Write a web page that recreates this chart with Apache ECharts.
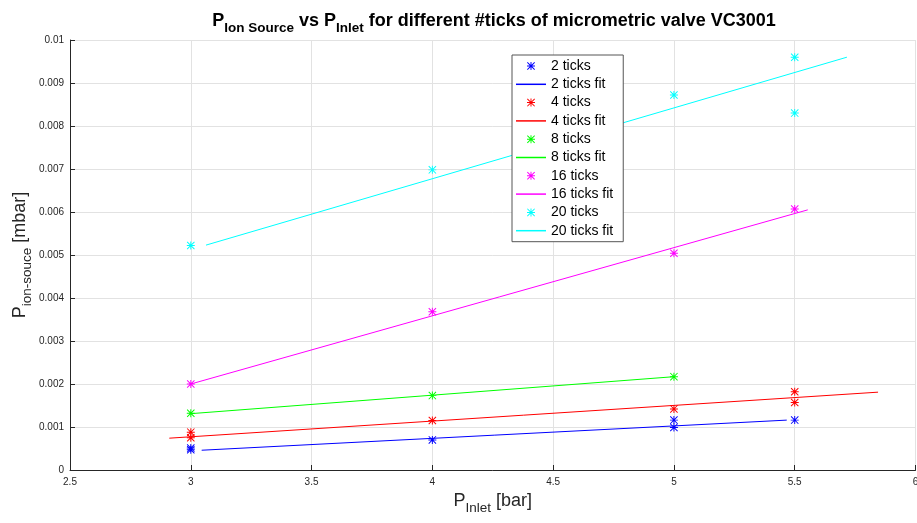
<!DOCTYPE html>
<html>
<head>
<meta charset="utf-8">
<script src="https://cdn.jsdelivr.net/npm/echarts@6/dist/echarts.min.js"></script>
<style>html,body{margin:0;padding:0;background:#fff}#c{width:917px;height:523px}</style>
</head>
<body>
<div id="c"></div>
<script>
// ---- data ----
const seriesNames = ['2 ticks', '4 ticks', '8 ticks', '16 ticks', '20 ticks'];
const seriesColors = ['#0000ff', '#ff0000', '#00ff00', '#ff00ff', '#00ffff'];

const pts2  = [[3, 0.00051], [3, 0.00047], [4, 0.00070], [5, 0.00116], [5, 0.00099], [5.5, 0.00116]];
const pts4  = [[3, 0.00088], [3, 0.00075], [4, 0.00115], [5, 0.00142], [5.5, 0.00182], [5.5, 0.00157]];
const pts8  = [[3, 0.00132], [4, 0.00173], [5, 0.00217]];
const pts16 = [[3, 0.00200], [4, 0.00368], [5, 0.00504], [5.5, 0.00607]];
const pts20 = [[3, 0.00522], [4, 0.00698], [5, 0.00872], [5.5, 0.00960], [5.5, 0.00830]];

const fit2  = [[3.045, 0.00046], [5.467, 0.00116]];
const fit4  = [[2.911, 0.00074], [5.845, 0.00181]];
const fit8  = [[3.0, 0.00131], [5.0, 0.00217]];
const fit16 = [[3.0, 0.00200], [5.554, 0.00605]];
const fit20 = [[3.063, 0.00523], [5.716, 0.00960]];

const xMin = 2.5, xMax = 6, xStep = 0.5;
const yMin = 0, yMax = 0.01, yStep = 0.001;

const pointSets = [pts2, pts4, pts8, pts16, pts20];
const fitSets = [fit2, fit4, fit8, fit16, fit20];

const STAR = 'path://M8.8,0h2.4v20h-2.4z M0,8.8h20v2.4h-20z M1.7,0L20,18.3L18.3,20L0,1.7z M18.3,0L20,1.7L1.7,20L0,18.3z';
const LINEICON = 'path://M0,0M30,8M0,3.25h30v1.5h-30z';
const FONT = '"Liberation Sans", Arial, Helvetica, sans-serif';
const AX = '#262626';

const series = [];
const legendData = [];
seriesNames.forEach((n, i) => {
  series.push({
    name: n, type: 'scatter', data: pointSets[i], symbol: STAR, symbolSize: 8,
    itemStyle: { color: seriesColors[i], opacity: 1 }, z: 3
  });
  series.push({
    name: n + ' fit', type: 'line', data: fitSets[i], symbol: 'none', showSymbol: false,
    lineStyle: { color: seriesColors[i], width: 1 }, itemStyle: { color: seriesColors[i] }, z: 2
  });
  legendData.push({ name: n, icon: STAR });
  legendData.push({ name: n + ' fit', icon: LINEICON });
});

const nameRich = {
  p: { fontSize: 18, color: AX, fontFamily: FONT },
  sub: { fontSize: 13.5, color: AX, fontFamily: FONT, padding: [14, 0, 0, 0] }
};

const chart = echarts.init(document.getElementById('c'), null, { renderer: 'canvas' });
chart.setOption({
  animation: false,
  backgroundColor: '#fff',
  textStyle: { fontFamily: FONT },
  title: {
    text: '{p|P}{sub|Ion Source}{p| vs P}{sub|Inlet}{p| for different #ticks of micrometric valve VC3001}',
    left: 489, top: 2, padding: 5, textAlign: 'center',
    textStyle: {
      rich: {
        p: { fontSize: 18, fontWeight: 'bold', color: '#000', fontFamily: FONT },
        sub: { fontSize: 13.5, fontWeight: 'bold', color: '#000', fontFamily: FONT, padding: [14, 0, 0, 0] }
      }
    }
  },
  legend: {
    orient: 'vertical', left: 512, top: 55,
    padding: [4, 10, 4, 4],
    itemWidth: 30, itemHeight: 8, itemGap: 4.3,
    borderColor: '#555', borderWidth: 1, backgroundColor: '#fff',
    textStyle: { fontSize: 14, color: '#000', fontFamily: FONT, lineHeight: 14 },
    data: legendData
  },
  grid: { left: 70, right: 1.5, top: 40, bottom: 53, containLabel: false, outerBoundsMode: 'none' },
  xAxis: {
    type: 'value', min: xMin, max: xMax, interval: xStep,
    name: '{p|P}{sub|Inlet}{p| [bar]}', nameLocation: 'middle', nameGap: 17, nameMoveOverlap: false,
    nameTextStyle: { rich: nameRich },
    axisLine: { show: true, lineStyle: { color: AX, width: 1 } },
    axisTick: { show: true, inside: true, length: 5, lineStyle: { color: AX } },
    axisLabel: { color: AX, fontSize: 10, margin: 7, fontFamily: FONT },
    splitLine: { show: true, lineStyle: { color: '#e2e2e2', width: 1 } }
  },
  yAxis: {
    type: 'value', min: yMin, max: yMax, interval: yStep,
    name: '{p|P}{sub|ion-souce}{p| [mbar]}', nameLocation: 'middle', nameGap: 36, nameRotate: 90,
    nameMoveOverlap: false,
    nameTextStyle: { rich: nameRich },
    axisLine: { show: true, lineStyle: { color: AX, width: 1 } },
    axisTick: { show: true, inside: true, length: 5, lineStyle: { color: AX } },
    axisLabel: { color: AX, fontSize: 10, margin: 6, fontFamily: FONT,
      formatter: v => String(+v.toFixed(3)) },
    splitLine: { show: true, lineStyle: { color: '#e2e2e2', width: 1 } }
  },
  series: series
});
</script>
</body>
</html>
